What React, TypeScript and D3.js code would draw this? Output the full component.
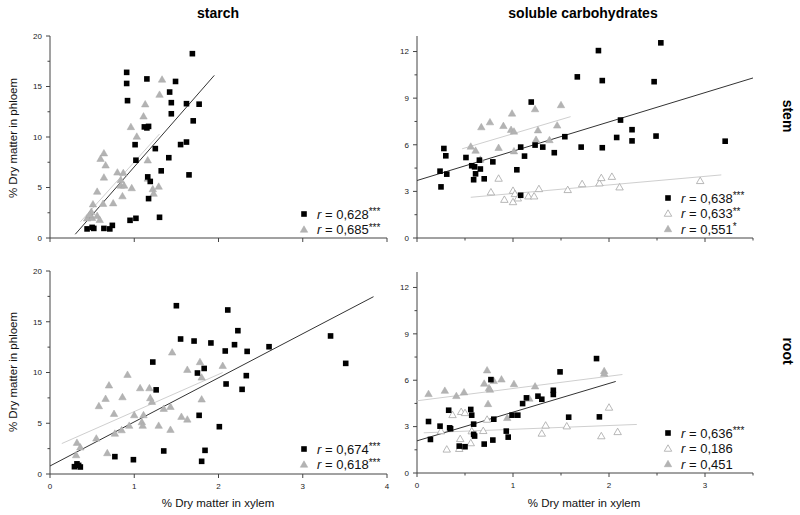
import React from "react";
import * as d3 from "d3";

// ---------- DATA ----------
type P = [number, number];

// Starch, stem (top-left)
const stemStarchBlack: P[] = [
  [1.69, 18.25], [0.91, 16.4], [0.91, 15.3], [0.92, 13.6], [1.15, 15.75], [1.49, 15.5],
  [1.42, 14.45], [1.44, 13.4], [1.44, 12.3], [1.62, 13.3], [1.77, 13.25], [1.7, 11.6],
  [1.12, 11.0], [1.17, 11.05], [1.15, 10.9], [1.01, 9.24], [1.02, 7.7], [1.25, 8.85],
  [1.55, 9.25], [1.62, 9.5], [1.41, 7.95], [1.16, 6.05], [1.19, 5.6], [1.32, 6.65],
  [1.65, 6.25], [1.17, 3.9], [0.95, 1.75], [1.02, 1.95], [1.3, 2.05], [0.44, 0.9],
  [0.5, 1.05], [0.52, 0.95], [0.64, 0.95], [0.71, 0.9], [0.74, 1.25],
];
const stemStarchGray: P[] = [
  [1.33, 15.7], [1.3, 14.2], [1.13, 13.25], [1.11, 12.05], [0.96, 11.0], [1.03, 10.05],
  [0.64, 8.4], [0.6, 7.85], [0.66, 7.2], [0.64, 6.0], [0.8, 6.5], [0.87, 6.45],
  [0.84, 5.75], [0.84, 5.2], [0.88, 5.2], [0.97, 4.95], [1.16, 7.7], [1.16, 5.9],
  [1.29, 5.1], [1.22, 4.85], [1.23, 4.4], [0.86, 4.15], [0.75, 3.45], [0.63, 3.4],
  [0.56, 4.6], [0.51, 3.35], [0.49, 2.6], [0.44, 1.95], [0.5, 2.0], [0.56, 2.2],
  [0.59, 1.8], [0.47, 2.3],
];
const stemStarchBlackFit: P[] = [[0.3, 0.37], [1.95, 16.1]];
const stemStarchGrayFit: P[] = [[0.36, 1.6], [1.3, 10.3]];

// Soluble carbohydrates, stem (top-right)
const stemSolBlack: P[] = [
  [2.54, 12.56], [1.89, 12.06], [1.93, 10.13], [1.67, 10.37], [2.47, 10.06], [1.19, 8.75],
  [2.12, 7.59], [2.24, 6.97], [2.24, 6.25], [2.08, 6.47], [2.49, 6.56], [3.21, 6.23],
  [1.54, 6.52], [1.71, 5.85], [1.93, 5.81], [1.23, 5.98], [1.31, 5.85], [1.08, 5.85],
  [1.12, 5.27], [1.43, 5.49], [1.04, 4.39], [1.08, 2.75], [0.28, 5.76], [0.3, 5.29],
  [0.24, 4.3], [0.31, 4.11], [0.25, 3.29], [0.51, 5.18], [0.65, 5.01], [0.57, 4.65],
  [0.6, 4.58], [0.66, 4.44], [0.61, 4.13], [0.59, 3.75], [0.7, 3.81], [0.79, 4.9],
];
const stemSolOpen: P[] = [
  [0.77, 2.95], [0.85, 3.83], [0.91, 2.47], [1.0, 3.05], [1.02, 2.84], [1.0, 2.32],
  [1.05, 2.56], [1.16, 2.69], [1.22, 2.69], [1.27, 3.16], [1.57, 3.1], [1.72, 3.48],
  [1.9, 3.53], [1.92, 3.87], [2.03, 3.95], [2.11, 3.27], [2.95, 3.68],
];
const stemSolGray: P[] = [
  [0.56, 5.89], [0.61, 5.63], [0.67, 7.14], [0.76, 7.46], [0.9, 7.22], [0.99, 8.02],
  [0.98, 6.97], [1.01, 6.86], [1.23, 8.3], [1.5, 8.56], [1.46, 7.25], [1.26, 6.94],
  [1.24, 6.33], [1.38, 6.31], [0.85, 5.81], [1.01, 5.59], [0.66, 5.05],
];
const stemSolBlackFit: P[] = [[0, 3.7], [3.5, 10.3]];
const stemSolOpenFit: P[] = [[0.56, 2.62], [3.17, 4.06]];
const stemSolGrayFit: P[] = [[0.47, 5.74], [1.6, 7.81]];

// Starch, root (bottom-left)
const rootStarchBlack: P[] = [
  [1.5, 16.58], [2.11, 16.16], [2.23, 14.12], [1.55, 13.3], [1.71, 13.1], [1.91, 12.91],
  [2.08, 12.12], [2.19, 12.74], [2.34, 12.08], [2.6, 12.54], [3.33, 13.6], [3.51, 10.9],
  [1.22, 11.03], [1.75, 9.95], [1.83, 10.4], [2.33, 9.69], [2.09, 8.87], [2.28, 8.34],
  [1.26, 8.29], [1.77, 5.78], [2.01, 4.66], [1.35, 2.27], [1.84, 2.33], [1.8, 1.25],
  [0.77, 1.71], [0.99, 1.41], [0.29, 0.72], [0.32, 1.0], [0.36, 0.69], [0.34, 0.85],
];
const rootStarchGray: P[] = [
  [1.45, 11.99], [0.92, 9.79], [0.7, 8.74], [1.07, 8.47], [1.18, 8.47], [0.66, 7.42],
  [0.86, 7.58], [0.58, 6.7], [1.19, 7.49], [1.21, 7.13], [0.76, 5.94], [1.0, 5.81],
  [1.11, 5.81], [1.09, 5.12], [1.1, 4.77], [0.94, 4.77], [1.29, 4.77], [1.35, 6.44],
  [1.43, 6.63], [1.56, 5.65], [1.63, 5.38], [1.63, 10.28], [1.78, 11.04], [1.8, 9.52],
  [1.8, 7.36], [2.05, 10.67], [0.85, 4.33], [0.77, 3.99], [0.55, 3.51], [0.68, 2.07],
  [1.43, 4.37], [0.32, 3.09], [0.36, 2.63], [0.31, 1.87],
];
const rootStarchBlackFit: P[] = [[0, 0.79], [3.84, 17.47]];
const rootStarchGrayFit: P[] = [[0.14, 3.0], [2.05, 10.0]];

// Soluble carbohydrates, root (bottom-right)
const rootSolBlack: P[] = [
  [0.77, 6.04], [0.33, 4.06], [0.56, 4.11], [0.57, 3.74], [0.12, 3.33], [0.24, 3.03],
  [0.34, 2.92], [0.35, 2.86], [0.59, 3.16], [0.8, 3.48], [0.99, 3.74], [1.05, 3.74],
  [1.1, 4.49], [1.14, 4.86], [0.14, 2.17], [0.59, 2.5], [0.6, 2.39], [0.93, 2.71],
  [0.95, 2.32], [0.79, 2.13], [0.7, 1.87], [0.44, 1.74], [0.5, 1.7], [1.87, 7.4],
  [1.49, 6.54], [1.42, 5.35], [1.42, 5.08], [1.26, 4.97], [1.3, 4.77], [1.58, 3.61],
  [1.9, 3.63],
];
const rootSolOpen: P[] = [
  [0.37, 3.76], [0.46, 3.96], [0.5, 3.89], [0.25, 2.71], [0.57, 2.71], [0.69, 2.73],
  [0.73, 3.46], [0.45, 2.21], [0.56, 1.94], [0.31, 1.53], [0.44, 1.57], [1.34, 3.08],
  [1.56, 3.03], [1.3, 2.56], [2.0, 4.24], [1.92, 2.39], [2.09, 2.66],
];
const rootSolGray: P[] = [
  [0.73, 6.65], [0.7, 5.79], [0.8, 5.96], [0.88, 6.06], [0.75, 5.5], [0.76, 5.4],
  [1.01, 5.76], [0.12, 5.12], [0.29, 5.33], [0.41, 4.99], [0.49, 5.23], [0.74, 4.47],
  [0.94, 3.57], [1.23, 5.61], [1.17, 4.82], [1.95, 6.6], [1.95, 6.43],
];
const rootSolBlackFit: P[] = [[0, 2.08], [2.07, 5.92]];
const rootSolOpenFit: P[] = [[0.07, 2.6], [2.29, 3.14]];
const rootSolGrayFit: P[] = [[0, 4.67], [2.14, 6.37]];

// Legend values
const stemStarchR = ["0,628", "0,685"];
const stemStarchSig = ["***", "***"];
const stemSolR = ["0,638", "0,633", "0,551"];
const stemSolSig = ["***", "**", "*"];
const rootStarchR = ["0,674", "0,618"];
const rootStarchSig = ["***", "***"];
const rootSolR = ["0,636", "0,186", "0,451"];
const rootSolSig = ["***", "", ""];

// Ticks
const starchYTicks = [0, 5, 10, 15, 20];
const starchYMinor = [2.5, 7.5, 12.5, 17.5];
const starchXTicks = [0, 1, 2, 3, 4];
const solYTicks = [0, 3, 6, 9, 12];
const solYMinor = [1.5, 4.5, 7.5, 10.5];
const solXTicks = [0, 1, 2, 3];
const solXMinor = [0.5, 1.5, 2.5, 3.5];

const columnTitles = ["starch", "soluble carbohydrates"];
const rowTitles = ["stem", "root"];
const xTitle = "% Dry matter in xylem";
const yTitle = "% Dry matter in phloem";

// ---------- STYLE ----------
const FONT = "'Liberation Sans', Arial, Helvetica, sans-serif";
const AXIS = "#444";
const BLACK = "#000";
const GRAY_FILL = "#b3b3b3";
const OPEN_STROKE = "#a6a6a6";
const FIT_BLACK = "#333";
const FIT_GRAY = "#cfcfcf";

type Kind = "square" | "gray" | "open";

const Marker: React.FC<{ kind: Kind; x: number; y: number }> = ({ kind, x, y }) => {
  if (kind === "square") {
    const s = 5.6;
    return <rect x={x - s / 2} y={y - s / 2} width={s} height={s} fill={BLACK} />;
  }
  const path = d3.symbol().type(d3.symbolTriangle).size(24)() as string;
  return (
    <path
      d={path}
      transform={`translate(${x},${y + 0.6})`}
      fill={kind === "gray" ? GRAY_FILL : "#fff"}
      stroke={kind === "gray" ? "#a8a8a8" : OPEN_STROKE}
      strokeWidth={kind === "gray" ? 0.5 : 0.8}
    />
  );
};

interface Series { kind: Kind; pts: P[] }
interface Fit { color: string; pts: P[] }
interface PanelProps {
  x0: number; x1: number; yTop: number; yBot: number;
  xMax: number; yMax: number;
  yTicks: number[]; yMinor: number[]; xTicks: number[]; xMinor: number[];
  showXLabels: boolean;
  series: Series[]; fits: Fit[];
  legendX: number; legendY: number; legendKinds: Kind[]; legendR: string[]; legendSig: string[];
}

const Panel: React.FC<PanelProps> = (p) => {
  const xs = d3.scaleLinear().domain([0, p.xMax]).range([p.x0, p.x1]);
  const ys = d3.scaleLinear().domain([0, p.yMax]).range([p.yBot, p.yTop]);
  const line = d3.line<P>().x((d) => xs(d[0])).y((d) => ys(d[1]));
  return (
    <g>
      <line x1={p.x0} x2={p.x0} y1={p.yTop} y2={p.yBot} stroke={AXIS} strokeWidth={1} />
      <line x1={p.x0} x2={p.x1} y1={p.yBot} y2={p.yBot} stroke={AXIS} strokeWidth={1} />
      {p.yTicks.map((t) => (
        <g key={"yt" + t}>
          <line x1={p.x0 - 4} x2={p.x0} y1={ys(t)} y2={ys(t)} stroke={AXIS} />
          <text x={p.x0 - 8} y={ys(t)} dy="0.35em" textAnchor="end" fontSize={8} fontFamily={FONT} fill="#222">
            {t}
          </text>
        </g>
      ))}
      {p.yMinor.map((t) => (
        <line key={"ym" + t} x1={p.x0 - 2.5} x2={p.x0} y1={ys(t)} y2={ys(t)} stroke={AXIS} />
      ))}
      {p.xTicks.map((t) => (
        <g key={"xt" + t}>
          <line x1={xs(t)} x2={xs(t)} y1={p.yBot} y2={p.yBot + 4} stroke={AXIS} />
          {p.showXLabels && (
            <text x={xs(t)} y={p.yBot + 15} textAnchor="middle" fontSize={8} fontFamily={FONT} fill="#222">
              {t}
            </text>
          )}
        </g>
      ))}
      {p.xMinor.map((t) => (
        <line key={"xm" + t} x1={xs(t)} x2={xs(t)} y1={p.yBot} y2={p.yBot + 2.5} stroke={AXIS} />
      ))}
      {p.fits.map((f, i) => (
        <path key={"f" + i} d={line(f.pts) as string} stroke={f.color} strokeWidth={1} fill="none" />
      ))}
      {p.series.map((s, si) =>
        s.pts.map((d, i) => <Marker key={si + "-" + i} kind={s.kind} x={xs(d[0])} y={ys(d[1])} />)
      )}
      {p.legendR.map((r, i) => {
        const y = p.legendY + i * 15.5;
        return (
          <g key={"lg" + i}>
            <Marker kind={p.legendKinds[i]} x={p.legendX} y={y} />
            <text x={p.legendX + 13} y={y} dy="0.36em" fontSize={13} fontFamily={FONT} fill="#111">
              <tspan fontStyle="italic">r</tspan>
              <tspan> = {r}</tspan>
              {p.legendSig[i] && (
                <tspan fontSize={10} dy={-3.5}>
                  {p.legendSig[i]}
                </tspan>
              )}
            </text>
          </g>
        );
      })}
    </g>
  );
};

export default function App() {
  const W = 800;
  const H = 515;
  return (
    <svg width={W} height={H} style={{ position: "absolute", left: 0, top: 0, background: "#fff" }}>
      <rect width={W} height={H} fill="#fff" />
      <text x={218} y={18} textAnchor="middle" fontSize={14} fontWeight="bold" fontFamily={FONT}>
        {columnTitles[0]}
      </text>
      <text x={583} y={18} textAnchor="middle" fontSize={14} fontWeight="bold" fontFamily={FONT}>
        {columnTitles[1]}
      </text>
      <text transform="translate(783,116) rotate(90)" textAnchor="middle" fontSize={14} fontWeight="bold" fontFamily={FONT}>
        {rowTitles[0]}
      </text>
      <text transform="translate(783,351) rotate(90)" textAnchor="middle" fontSize={14} fontWeight="bold" fontFamily={FONT}>
        {rowTitles[1]}
      </text>
      <text transform="translate(17,138) rotate(-90)" textAnchor="middle" fontSize={11.5} fontFamily={FONT} fill="#111">
        {yTitle}
      </text>
      <text transform="translate(17,372) rotate(-90)" textAnchor="middle" fontSize={11.5} fontFamily={FONT} fill="#111">
        {yTitle}
      </text>
      <text x={218} y={507} textAnchor="middle" fontSize={11.5} fontFamily={FONT} fill="#111">
        {xTitle}
      </text>
      <text x={584} y={507} textAnchor="middle" fontSize={11.5} fontFamily={FONT} fill="#111">
        {xTitle}
      </text>

      <Panel
        x0={50} x1={387} yTop={36} yBot={238} xMax={4} yMax={20}
        yTicks={starchYTicks} yMinor={starchYMinor} xTicks={starchXTicks} xMinor={[]}
        showXLabels={false}
        fits={[{ color: FIT_GRAY, pts: stemStarchGrayFit }, { color: FIT_BLACK, pts: stemStarchBlackFit }]}
        series={[{ kind: "gray", pts: stemStarchGray }, { kind: "square", pts: stemStarchBlack }]}
        legendX={304} legendY={214} legendKinds={["square", "gray"]} legendR={stemStarchR} legendSig={stemStarchSig}
      />
      <Panel
        x0={417} x1={753} yTop={36} yBot={238} xMax={3.5} yMax={13}
        yTicks={solYTicks} yMinor={solYMinor} xTicks={solXTicks} xMinor={solXMinor}
        showXLabels={false}
        fits={[
          { color: FIT_GRAY, pts: stemSolGrayFit },
          { color: FIT_GRAY, pts: stemSolOpenFit },
          { color: FIT_BLACK, pts: stemSolBlackFit },
        ]}
        series={[
          { kind: "gray", pts: stemSolGray },
          { kind: "open", pts: stemSolOpen },
          { kind: "square", pts: stemSolBlack },
        ]}
        legendX={668} legendY={198} legendKinds={["square", "open", "gray"]} legendR={stemSolR} legendSig={stemSolSig}
      />
      <Panel
        x0={50} x1={387} yTop={271} yBot={474} xMax={4} yMax={20}
        yTicks={starchYTicks} yMinor={starchYMinor} xTicks={starchXTicks} xMinor={[]}
        showXLabels={true}
        fits={[{ color: FIT_GRAY, pts: rootStarchGrayFit }, { color: FIT_BLACK, pts: rootStarchBlackFit }]}
        series={[{ kind: "gray", pts: rootStarchGray }, { kind: "square", pts: rootStarchBlack }]}
        legendX={304} legendY={449} legendKinds={["square", "gray"]} legendR={rootStarchR} legendSig={rootStarchSig}
      />
      <Panel
        x0={417} x1={753} yTop={272} yBot={473} xMax={3.5} yMax={13}
        yTicks={solYTicks} yMinor={solYMinor} xTicks={solXTicks} xMinor={solXMinor}
        showXLabels={true}
        fits={[
          { color: FIT_GRAY, pts: rootSolGrayFit },
          { color: FIT_GRAY, pts: rootSolOpenFit },
          { color: FIT_BLACK, pts: rootSolBlackFit },
        ]}
        series={[
          { kind: "gray", pts: rootSolGray },
          { kind: "open", pts: rootSolOpen },
          { kind: "square", pts: rootSolBlack },
        ]}
        legendX={668} legendY={433} legendKinds={["square", "open", "gray"]} legendR={rootSolR} legendSig={rootSolSig}
      />
    </svg>
  );
}
